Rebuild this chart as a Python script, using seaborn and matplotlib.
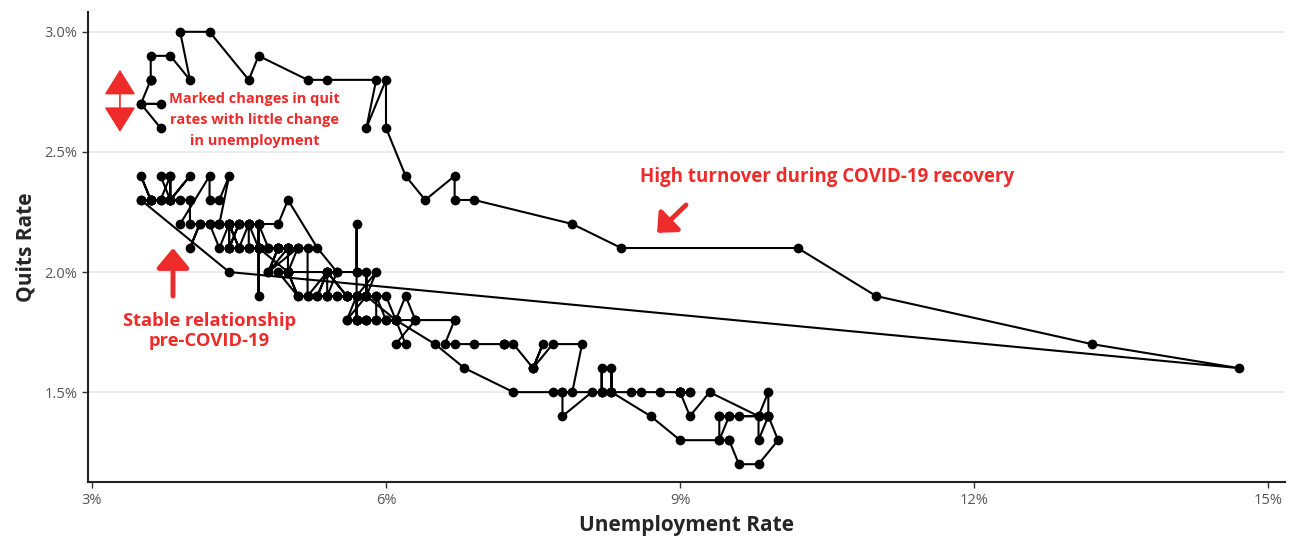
import matplotlib
matplotlib.use("Agg")
import matplotlib.pyplot as plt
from matplotlib.ticker import FuncFormatter, FixedLocator
import seaborn as sns
import pandas as pd

# monthly values, Dec 2000 .. Oct 2022 (unemployment %, quits %)
unemp = [
    3.9,
    4.2, 4.2, 4.3, 4.4, 4.3, 4.5, 4.6, 4.9, 5.0, 5.3, 5.5, 5.7,   # 2001
    5.7, 5.7, 5.7, 5.9, 5.8, 5.8, 5.8, 5.7, 5.7, 5.7, 5.9, 6.0,   # 2002
    5.8, 5.9, 5.9, 6.0, 6.1, 6.3, 6.2, 6.1, 6.1, 6.0, 5.8, 5.7,   # 2003
    5.7, 5.6, 5.8, 5.6, 5.6, 5.6, 5.5, 5.4, 5.4, 5.5, 5.4, 5.4,   # 2004
    5.3, 5.4, 5.2, 5.2, 5.1, 5.0, 5.0, 4.9, 5.0, 5.0, 5.0, 4.9,   # 2005
    4.7, 4.8, 4.7, 4.7, 4.6, 4.6, 4.7, 4.7, 4.5, 4.4, 4.5, 4.4,   # 2006
    4.6, 4.5, 4.4, 4.5, 4.4, 4.6, 4.7, 4.6, 4.7, 4.7, 4.7, 5.0,   # 2007
    5.0, 4.9, 5.1, 5.0, 5.4, 5.6, 5.8, 6.1, 6.1, 6.5, 6.8, 7.3,   # 2008
    7.8, 8.3, 8.7, 9.0, 9.4, 9.5, 9.5, 9.6, 9.8, 10.0, 9.9, 9.9,  # 2009
    9.8, 9.8, 9.9, 9.9, 9.6, 9.4, 9.4, 9.5, 9.5, 9.4, 9.8, 9.3,   # 2010
    9.1, 9.0, 9.0, 9.1, 9.0, 9.1, 9.0, 9.0, 9.0, 8.8, 8.6, 8.5,   # 2011
    8.3, 8.3, 8.3, 8.2, 8.2, 8.2, 8.2, 8.1, 7.8, 7.8, 7.7, 7.9,   # 2012
    8.0, 7.7, 7.5, 7.6, 7.5, 7.5, 7.3, 7.2, 7.2, 7.2, 6.9, 6.7,   # 2013
    6.6, 6.7, 6.7, 6.3, 6.3, 6.1, 6.2, 6.1, 5.9, 5.7, 5.8, 5.6,   # 2014
    5.7, 5.5, 5.4, 5.4, 5.6, 5.3, 5.2, 5.1, 5.0, 5.0, 5.1, 5.0,   # 2015
    4.8, 4.9, 5.0, 5.1, 4.8, 4.9, 4.8, 4.9, 5.0, 4.9, 4.7, 4.7,   # 2016
    4.7, 4.6, 4.4, 4.4, 4.4, 4.3, 4.3, 4.4, 4.3, 4.2, 4.2, 4.1,   # 2017
    4.0, 4.1, 4.0, 4.0, 3.8, 4.0, 3.8, 3.8, 3.7, 3.8, 3.8, 3.9,   # 2018
    4.0, 3.8, 3.8, 3.7, 3.6, 3.6, 3.7, 3.6, 3.5, 3.6, 3.6, 3.6,   # 2019
    3.5, 3.5, 4.4, 14.7, 13.2, 11.0, 10.2, 8.4, 7.9, 6.9, 6.7, 6.7,  # 2020
    6.4, 6.2, 6.0, 6.0, 5.8, 5.9, 5.4, 5.2, 4.7, 4.6, 4.2, 3.9,   # 2021
    4.0, 3.8, 3.6, 3.6, 3.6, 3.6, 3.5, 3.7, 3.5, 3.7,             # 2022
]

quits = [
    2.2,
    2.4, 2.3, 2.3, 2.4, 2.2, 2.2, 2.2, 2.2, 2.3, 2.1, 2.0, 2.0,   # 2001
    2.2, 2.0, 1.9, 2.0, 1.9, 2.0, 1.9, 1.9, 1.8, 1.9, 1.9, 1.8,   # 2002
    1.8, 1.8, 1.9, 1.9, 1.8, 1.8, 1.9, 1.8, 1.8, 1.8, 1.8, 1.8,   # 2003
    1.8, 1.8, 1.9, 1.9, 1.9, 1.9, 1.9, 1.9, 1.9, 2.0, 2.0, 2.0,   # 2004
    1.9, 2.0, 1.9, 2.1, 2.1, 2.1, 2.1, 2.1, 2.1, 2.0, 2.1, 2.1,   # 2005
    2.1, 2.1, 2.2, 2.1, 2.1, 2.2, 2.1, 2.2, 2.2, 2.2, 2.1, 2.2,   # 2006
    2.2, 2.1, 2.1, 2.2, 2.1, 2.1, 2.1, 2.1, 2.1, 1.9, 2.1, 2.0,   # 2007
    2.0, 2.0, 1.9, 2.0, 2.0, 1.9, 1.9, 1.8, 1.8, 1.7, 1.6, 1.5,   # 2008
    1.5, 1.5, 1.4, 1.3, 1.3, 1.3, 1.3, 1.2, 1.2, 1.3, 1.4, 1.4,   # 2009
    1.3, 1.4, 1.5, 1.4, 1.4, 1.4, 1.3, 1.4, 1.4, 1.4, 1.4, 1.5,   # 2010
    1.4, 1.5, 1.5, 1.5, 1.5, 1.5, 1.5, 1.5, 1.5, 1.5, 1.5, 1.5,   # 2011
    1.5, 1.6, 1.5, 1.5, 1.6, 1.5, 1.5, 1.5, 1.4, 1.5, 1.5, 1.5,   # 2012
    1.7, 1.7, 1.6, 1.7, 1.6, 1.6, 1.7, 1.7, 1.7, 1.7, 1.7, 1.7,   # 2013
    1.7, 1.8, 1.8, 1.8, 1.8, 1.7, 1.7, 1.8, 1.8, 1.8, 1.8, 1.8,   # 2014
    1.9, 1.9, 1.9, 2.0, 1.9, 1.9, 1.9, 1.9, 2.0, 2.0, 2.1, 2.1,   # 2015
    2.0, 2.1, 2.1, 2.1, 2.0, 2.1, 2.1, 2.1, 2.1, 2.1, 2.1, 2.1,   # 2016
    2.2, 2.2, 2.2, 2.1, 2.2, 2.2, 2.2, 2.2, 2.1, 2.2, 2.2, 2.2,   # 2017
    2.1, 2.2, 2.2, 2.3, 2.3, 2.4, 2.3, 2.4, 2.4, 2.3, 2.3, 2.3,   # 2018
    2.3, 2.3, 2.4, 2.3, 2.3, 2.3, 2.3, 2.3, 2.4, 2.3, 2.3, 2.3,   # 2019
    2.3, 2.3, 2.0, 1.6, 1.7, 1.9, 2.1, 2.1, 2.2, 2.3, 2.3, 2.4,   # 2020
    2.3, 2.4, 2.6, 2.8, 2.6, 2.8, 2.8, 2.8, 2.9, 2.8, 3.0, 3.0,   # 2021
    2.8, 2.9, 2.9, 2.8, 2.8, 2.8, 2.7, 2.7, 2.7, 2.6,             # 2022
]

x_ticks = [3, 6, 9, 12, 15]
y_ticks = [1.5, 2.0, 2.5, 3.0]

df = pd.DataFrame({"unemp": unemp, "quits": quits})

RED = "#ee2b2b"

sns.set_theme(style="white")
plt.rcParams["font.family"] = ["Open Sans", "DejaVu Sans"]

fig = plt.figure(figsize=(12.94, 5.40), dpi=100)
ax = fig.add_axes([0.068, 0.107, 0.925, 0.871])

sns.lineplot(data=df, x="unemp", y="quits", sort=False, estimator=None,
             color="black", lw=1.5, marker="o", markersize=7,
             markeredgewidth=0, ax=ax)

ax.set_xlim(2.96, 15.17)
ax.set_ylim(1.125, 3.083)
ax.xaxis.set_major_locator(FixedLocator(x_ticks))
ax.yaxis.set_major_locator(FixedLocator(y_ticks))
ax.xaxis.set_major_formatter(FuncFormatter(lambda v, _: f"{v:.0f}%"))
ax.yaxis.set_major_formatter(FuncFormatter(lambda v, _: f"{v:.1f}%"))
ax.yaxis.grid(True, color="#e9e9e9", lw=1.2)
ax.set_axisbelow(True)
sns.despine(ax=ax)
for s in ["left", "bottom"]:
    ax.spines[s].set_color("#222222")
    ax.spines[s].set_linewidth(1.5)
ax.tick_params(axis="both", length=4, width=1, color="#333333",
               labelsize=10.5, labelcolor="#555555", bottom=True, left=True)

ax.set_xlabel("Unemployment Rate", fontsize=15, fontweight="bold", labelpad=5)
ax.set_ylabel("Quits Rate", fontsize=15, fontweight="bold", labelpad=6)

# annotations
ax.annotate("", xy=(3.286, 2.842), xytext=(3.286, 2.583),
            arrowprops=dict(arrowstyle="<|-|>,head_length=0.8,head_width=0.5",
                            color=RED, lw=1.2, mutation_scale=20,
                            shrinkA=0, shrinkB=0))
ax.text(4.66, 2.633, "Marked changes in quit\nrates with little change\nin unemployment",
        color=RED, fontsize=10.5, fontweight="bold", ha="center", va="center",
        linespacing=1.6)

ax.annotate("", xy=(3.827, 2.10), xytext=(3.827, 1.90),
            arrowprops=dict(arrowstyle="-|>,head_length=0.6,head_width=0.5",
                            color=RED, lw=3.5, mutation_scale=20,
                            shrinkA=0, shrinkB=0))
ax.text(4.2, 1.754, "Stable relationship\npre-COVID-19",
        color=RED, fontsize=13.2, fontweight="bold", ha="center", va="center",
        linespacing=1.15)

ax.annotate("", xy=(8.765, 2.163), xytext=(9.06, 2.279),
            arrowprops=dict(arrowstyle="-|>,head_length=0.5,head_width=0.45",
                            color=RED, lw=3.5, mutation_scale=20,
                            shrinkA=0, shrinkB=0))
ax.text(10.5, 2.396, "High turnover during COVID-19 recovery",
        color=RED, fontsize=13.5, fontweight="bold", ha="center", va="center")

fig.savefig("out.png", dpi=100)
